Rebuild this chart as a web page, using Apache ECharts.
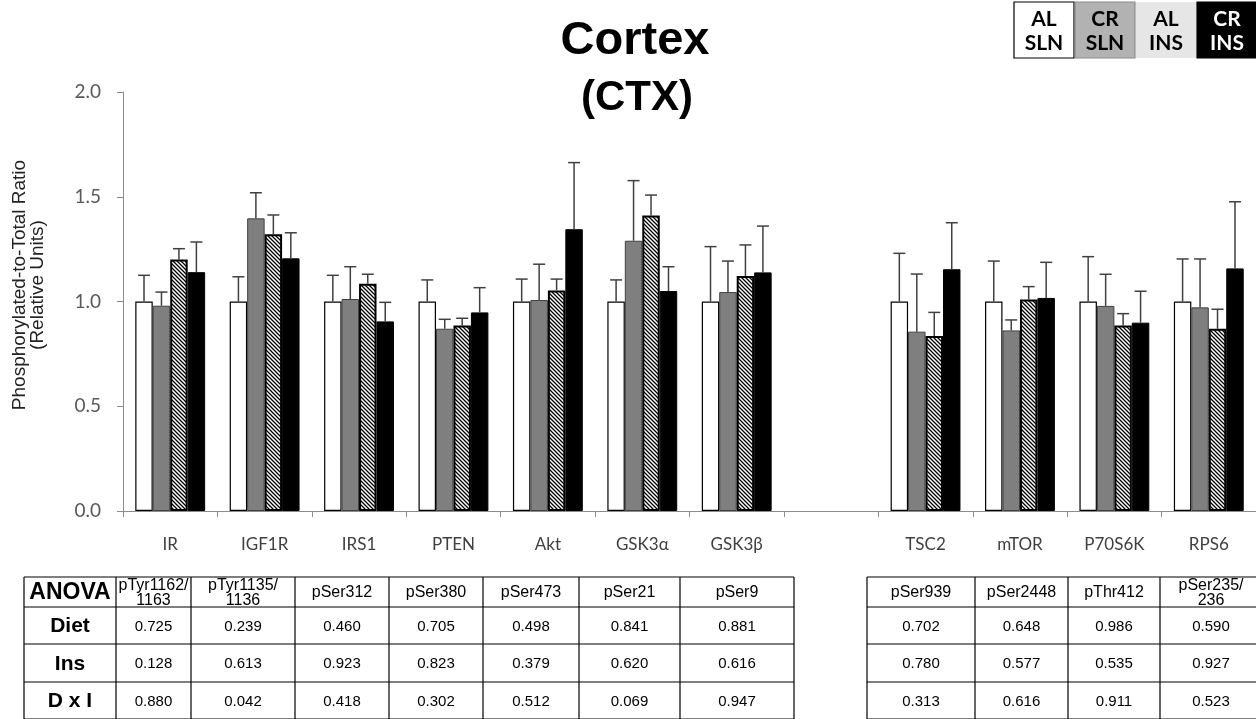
<!DOCTYPE html>
<html><head><meta charset="utf-8">
<script src="https://cdn.jsdelivr.net/npm/echarts@6/dist/echarts.min.js"></script>
<style>html,body{margin:0;padding:0;background:#fff}#c{width:1256px;height:719px}</style>
</head><body><div id="c"></div>
<script>
// ---------- data ----------
const categories = ['IR','IGF1R','IRS1','PTEN','Akt','GSK3α','GSK3β','','TSC2','mTOR','P70S6K','RPS6'];
const seriesNames = ['AL SLN','CR SLN','AL INS','CR INS'];
const alSln    = [1.00,1.00,1.00,1.00,1.00,1.00,1.00,null,1.00,1.00,1.00,1.00];
const alSlnErr = [0.125,0.118,0.125,0.103,0.107,0.103,0.262,null,0.230,0.193,0.214,0.203];
const crSln    = [0.980,1.397,1.012,0.870,1.007,1.290,1.045,null,0.856,0.862,0.979,0.972];
const crSlnErr = [0.065,0.122,0.154,0.045,0.171,0.287,0.148,null,0.275,0.050,0.151,0.231];
const alIns    = [1.200,1.321,1.085,0.885,1.053,1.411,1.122,null,0.835,1.009,0.885,0.870];
const alInsErr = [0.052,0.092,0.045,0.035,0.054,0.097,0.148,null,0.113,0.062,0.057,0.093];
const crIns    = [1.140,1.206,0.905,0.948,1.345,1.050,1.139,null,1.154,1.017,0.899,1.158];
const crInsErr = [0.144,0.122,0.091,0.118,0.318,0.116,0.221,null,0.222,0.170,0.150,0.318];
const yTicks = ['0.0','0.5','1.0','1.5','2.0'];
const yAxisTitle = 'Phosphorylated-to-Total Ratio\n(Relative Units)';
const anovaRows = ['Diet','Ins','D x I'];
const sites = ['pTyr1162/\n1163','pTyr1135/\n1136','pSer312','pSer380','pSer473','pSer21','pSer9',null,'pSer939','pSer2448','pThr412','pSer235/\n236'];
const dietP = ['0.725','0.239','0.460','0.705','0.498','0.841','0.881',null,'0.702','0.648','0.986','0.590'];
const insP  = ['0.128','0.613','0.923','0.823','0.379','0.620','0.616',null,'0.780','0.577','0.535','0.927'];
const dxiP  = ['0.880','0.042','0.418','0.302','0.512','0.069','0.947',null,'0.313','0.616','0.911','0.523'];

// ---------- hatch pattern ----------
const p = 4;
const pc = document.createElement('canvas'); pc.width = p; pc.height = p;
const g = pc.getContext('2d');
g.fillStyle = '#fff'; g.fillRect(0,0,p,p);
g.strokeStyle = '#000'; g.lineWidth = 1.3;
g.beginPath();
g.moveTo(-1,-1); g.lineTo(p+1,p+1);
g.moveTo(-1,p-1); g.lineTo(1,p+1);
g.moveTo(p-1,-1); g.lineTo(p+1,1);
g.stroke();

const CAT_GAP = 0.26;
const barStyles = [
  {color:'#ffffff', borderColor:'#000', borderWidth:1.2},
  {color:'#7f7f7f', borderColor:'#404040', borderWidth:1},
  {color:{image:pc, repeat:'repeat'}, borderColor:'#000', borderWidth:2},
  {color:'#000000', borderColor:'#000', borderWidth:1}
];
const means = [alSln, crSln, alIns, crIns];
const errs = [alSlnErr, crSlnErr, alInsErr, crInsErr];

const series = [];
means.forEach((m,k)=>{
  series.push({type:'bar', name:seriesNames[k], data:m, barGap:'0%', barCategoryGap:(CAT_GAP*100)+'%',
    itemStyle:barStyles[k], emphasis:{disabled:true}});
});
means.forEach((m,k)=>{
  const data = [];
  m.forEach((v,i)=>{ if(v!=null) data.push([i, v, v+errs[k][i]]); });
  series.push({type:'custom', name:seriesNames[k]+' SEM', z:5, silent:true, data,
    encode:{x:0, y:[1,2]},
    renderItem(params, api){
      const i = api.value(0);
      const band = api.size([1,0])[0];
      const bw = band*(1-CAT_GAP)/4;
      const c0 = api.coord([i, api.value(1)]);
      const c1 = api.coord([i, api.value(2)]);
      const x = c0[0] + (k-1.5)*bw;
      const st = {stroke:'#404040', lineWidth:1.5};
      return {type:'group', children:[
        {type:'line', shape:{x1:x,y1:c0[1],x2:x,y2:c1[1]}, style:st},
        {type:'line', shape:{x1:x-6,y1:c1[1],x2:x+6,y2:c1[1]}, style:st}
      ]};
    }});
});

// ---------- graphics: title, legend, axis title, table ----------
const tf = '"Liberation Sans", Arial, sans-serif';
const graphic = [];
graphic.push({type:'text', x:635, y:41, style:{text:'Cortex', font:'bold 47px '+tf, fill:'#000', align:'center', verticalAlign:'middle'}});
graphic.push({type:'text', x:637, y:98, style:{text:'(CTX)', font:'bold 42px '+tf, fill:'#000', align:'center', verticalAlign:'middle'}});
graphic.push({type:'text', x:29, y:285, rotation:Math.PI/2,
  style:{text:yAxisTitle, font:'19px '+tf, lineHeight:18, fill:'#222', align:'center', verticalAlign:'middle'}});

const legFill = ['#ffffff','#b2b2b2','#e6e6e6','#000000'];
const legStroke = ['#000','#8a8a8a',null,'#000'];
const legText = ['#000','#000','#000','#fff'];
const legX0 = 1014, legW = 61, legY = 2, legH = 56;
seriesNames.forEach((n,k)=>{
  graphic.push({type:'rect', shape:{x:legX0+k*legW, y:legY, width:legW-1, height:legH},
    style:{fill:legFill[k], stroke:legStroke[k], lineWidth:legStroke[k]?1.2:0}});
  graphic.push({type:'text', x:legX0+k*legW+(legW-1)/2, y:legY+legH/2+1,
    style:{text:n.replace(' ','\n'), font:'bold 21px Lato, "Open Sans", sans-serif', lineHeight:24, fill:legText[k], align:'center', verticalAlign:'middle'}});
});

const rowsY = [577, 607, 644, 682, 719];
const leftCols = [24, 116, 191, 295, 389, 483, 579, 680, 794];
const rightCols = [867, 975, 1068, 1160, 1262];
const lineSt = {stroke:'#000', lineWidth:1.2};
function drawGrid(cols){
  rowsY.forEach(y=>graphic.push({type:'line', shape:{x1:cols[0],y1:y,x2:cols[cols.length-1],y2:y}, style:lineSt}));
  cols.forEach(x=>graphic.push({type:'line', shape:{x1:x,y1:rowsY[0],x2:x,y2:rowsY[rowsY.length-1]}, style:lineSt}));
}
drawGrid(leftCols); drawGrid(rightCols);
function cellText(x0,x1,r,txt,font,lh){
  graphic.push({type:'text', x:(x0+x1)/2, y:(rowsY[r]+rowsY[r+1])/2+1,
    style:{text:txt, font:font, lineHeight:lh||16, fill:'#000', align:'center', verticalAlign:'middle'}});
}
cellText(leftCols[0], leftCols[1], 0, 'ANOVA', 'bold 23px '+tf);
anovaRows.forEach((t,r)=>cellText(leftCols[0], leftCols[1], r+1, t, 'bold 21px '+tf));
const valueRows = [dietP, insP, dxiP];
function fillCols(cols, idxs){
  idxs.forEach((ci,j)=>{
    cellText(cols[j], cols[j+1], 0, sites[ci], '16px '+tf, 15);
    valueRows.forEach((vr,r)=>cellText(cols[j], cols[j+1], r+1, vr[ci], '15px '+tf));
  });
}
fillCols(leftCols.slice(1), [0,1,2,3,4,5,6]);
fillCols(rightCols, [8,9,10,11]);

const chart = echarts.init(document.getElementById('c'), null, {renderer:'canvas'});
chart.setOption({
  animation:false,
  backgroundColor:'#fff',
  grid:{left:123, right:0, top:92, bottom:208, containLabel:false},
  xAxis:{type:'category', data:categories,
    axisLine:{lineStyle:{color:'#8c8c8c', width:1}},
    axisTick:{show:true, alignWithLabel:false, length:6, lineStyle:{color:'#8c8c8c'}, interval:0},
    axisLabel:{interval:0, margin:25, fontSize:17, fontFamily:'Lato, "Open Sans", sans-serif', color:'#404040'}},
  yAxis:{type:'value', min:0, max:2, interval:0.5,
    axisLine:{show:true, lineStyle:{color:'#8c8c8c'}},
    axisTick:{show:true, length:6, lineStyle:{color:'#8c8c8c'}},
    splitLine:{show:false},
    axisLabel:{margin:22, fontSize:19, fontFamily:'Lato, "Open Sans", sans-serif', color:'#595959',
      formatter:(v)=>yTicks[Math.round(v/0.5)]}},
  series,
  graphic
});
</script></body></html>
